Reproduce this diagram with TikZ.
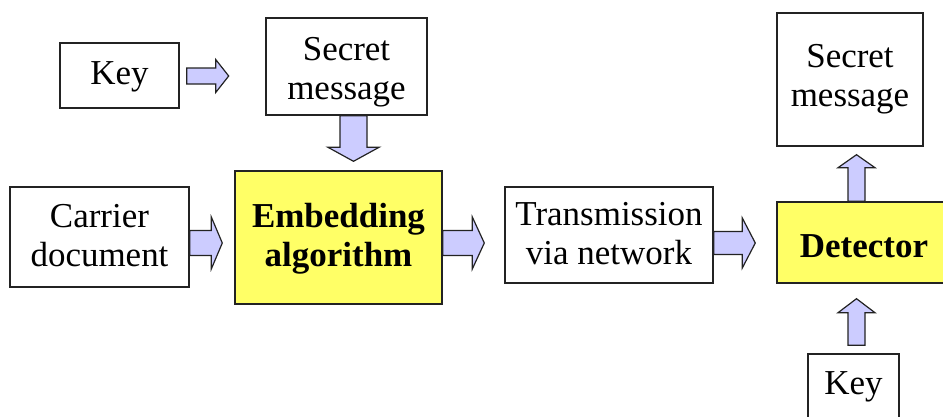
\documentclass[tikz,border=0pt]{standalone}
\usepackage{fontspec}
\setmainfont{Liberation Serif}
\usetikzlibrary{calc}
\definecolor{boxyellow}{RGB}{255,255,102}
\definecolor{arrowfill}{RGB}{204,204,255}
\definecolor{edgegray}{RGB}{35,35,35}
\tikzset{
  box/.style={draw=edgegray, line width=1.4bp, fill=white, inner sep=0pt, align=center,
    font=\fontsize{35.1}{39.1}\selectfont},
  hotbox/.style={box, fill=boxyellow, font=\fontsize{35.1}{39.1}\selectfont\bfseries},
  barrow/.style={draw=edgegray, line width=1.2bp, fill=arrowfill, line join=miter}
}
% text block lowered by #1 inside its box
\newcommand{\boxtext}[2][0bp]{\raisebox{-#1}[\height][\depth]{\begin{tabular}{@{}c@{}}#2\end{tabular}}}
% #1 start, #2 tip, #3 shaft half width, #4 head half width, #5 head length
\newcommand{\blockarrow}[5]{%
  \coordinate (ba-h) at ($(#2)!#5!(#1)$);
  \draw[barrow] ($(#1)!#3!90:(#2)$) -- ($(ba-h)!#3!-90:(#1)$) -- ($(ba-h)!#4!-90:(#1)$)
    -- (#2) -- ($(ba-h)!#4!90:(#1)$) -- ($(ba-h)!#3!90:(#1)$) -- ($(#1)!#3!-90:(#2)$) -- cycle;}
\begin{document}
\begin{tikzpicture}[x={(1bp,0)}, y={(0,-1bp)}]
\useasboundingbox (0,0) rectangle (943,416);
\clip (0,0) rectangle (943,416);

\node[box, minimum width=119bp, minimum height=65bp] (key1) at (119.5,75.5) {\boxtext[1.7bp]{Key}};
\node[box, minimum width=161bp, minimum height=97bp] (sec1) at (346.5,66.5) {\boxtext[6bp]{Secret\\message}};
\node[box, minimum width=179bp, minimum height=100bp] (carrier) at (99.5,237) {\boxtext[2bp]{Carrier\\document}};
\node[hotbox, minimum width=207bp, minimum height=133bp] (embed) at (338.5,237.5) {\boxtext[2bp]{Embedding\\algorithm}};
\node[box, minimum width=208bp, minimum height=96bp] (trans) at (609,235) {\boxtext[2bp]{Transmission\\via network}};
\node[hotbox, minimum width=174bp, minimum height=81bp] (det) at (864,242.5) {\boxtext[7bp]{Detector}};
\node[box, minimum width=146bp, minimum height=133bp] (sec2) at (850,79.5) {\boxtext[0bp]{Secret\\message}};
\node[box, minimum width=91bp, minimum height=66bp] (key2) at (853.5,387) {\boxtext[0bp]{Key}};

\coordinate (a1s) at ($(key1.east)+(7,0.5)$);
\coordinate (a1e) at ($(key1.east)+(49,0.5)$);
\coordinate (a2s) at ($(sec1.south)+(7,0)$);
\coordinate (a2e) at ($(embed.north)+(15,-9)$);
\coordinate (a3s) at ($(carrier.east)+(0,6)$);
\coordinate (a3e) at ($(embed.west)+(-12,5.5)$);
\coordinate (a4s) at ($(embed.east)+(0,5.5)$);
\coordinate (a4e) at ($(trans.west)+(-20,8)$);
\coordinate (a5s) at ($(trans.east)+(0,8)$);
\coordinate (a5e) at ($(det.west)+(-21,0.5)$);
\coordinate (a6s) at ($(det.north)+(-7.5,0)$);
\coordinate (a6e) at ($(sec2.south)+(6.5,8)$);
\coordinate (a7s) at ($(key2.north)+(3,-8)$);
\coordinate (a7e) at ($(det.south)+(-7.5,15)$);

\blockarrow{a1s}{a1e}{8bp}{16.5bp}{13bp}
\blockarrow{a2s}{a2e}{13.5bp}{25.5bp}{14bp}
\blockarrow{a3s}{a3e}{12.5bp}{26bp}{11bp}
\blockarrow{a4s}{a4e}{12.5bp}{26bp}{12bp}
\blockarrow{a5s}{a5e}{11.5bp}{25bp}{13bp}
\blockarrow{a6s}{a6e}{8.5bp}{18.5bp}{13bp}
\blockarrow{a7s}{a7e}{8.5bp}{18.5bp}{14bp}
\end{tikzpicture}
\end{document}
